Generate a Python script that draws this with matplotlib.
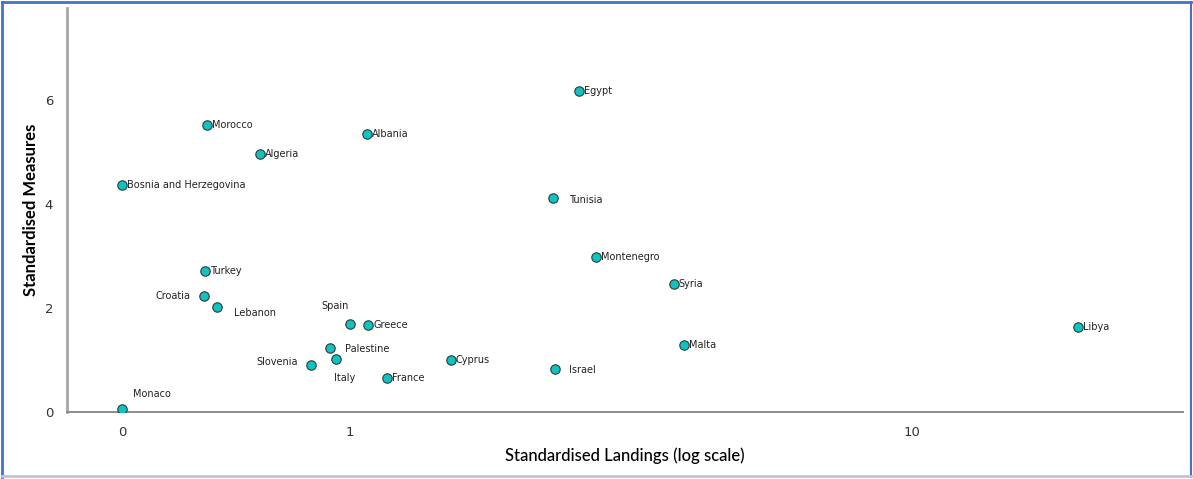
import matplotlib
matplotlib.use("Agg")
import matplotlib.pyplot as plt
from matplotlib.lines import Line2D

# Data (x = standardised landings, y = standardised measures)
countries = [
    "Monaco", "Turkey", "Croatia", "Lebanon", "Morocco", "Algeria",
    "Bosnia and Herzegovina", "Albania", "Spain", "Greece", "Palestine",
    "Italy", "Slovenia", "France", "Cyprus", "Israel", "Tunisia", "Egypt",
    "Montenegro", "Syria", "Malta", "Libya",
]
landings = [
    0.393, 0.552, 0.550, 0.580, 0.557, 0.692,
    0.393, 1.072, 1.000, 1.077, 0.921,
    0.944, 0.852, 1.164, 1.512, 2.316, 2.297, 2.556,
    2.740, 3.772, 3.929, 19.74,
]
measures = [
    0.06, 2.71, 2.23, 2.02, 5.52, 4.96,
    4.37, 5.35, 1.69, 1.67, 1.23,
    1.02, 0.90, 0.65, 1.00, 0.83, 4.12, 6.17,
    2.98, 2.46, 1.29, 1.63,
]

x_ticks = [0.393, 1, 10]
x_tick_labels = ["0", "1", "10"]
y_ticks = [0, 2, 4, 6]

# label offsets in pixels (dx, dy, ha)
LABEL_POS = {
    "Monaco": (11, 15, "left"),
    "Croatia": (-14, 0, "right"),
    "Lebanon": (17, -6, "left"),
    "Spain": (-15, 18, "center"),
    "Palestine": (15, -1, "left"),
    "Italy": (9, -19, "center"),
    "Slovenia": (-13, 3, "right"),
    "Tunisia": (16, -2, "left"),
    "Israel": (14, -1, "left"),
}

MARKER_COLOR = "#0FC4C0"
EDGE_COLOR = "#2B3A3A"
SPINE_COLOR = "#A6A6A6"
TEXT_COLOR = "#222222"

fig = plt.figure(figsize=(11.93, 4.79), dpi=100, facecolor="white")
ax = fig.add_axes([0.0562, 0.1399, 0.9354, 0.8431])

ax.scatter(landings, measures, s=46, color=MARKER_COLOR,
           edgecolors=EDGE_COLOR, linewidths=0.8, zorder=3)

for name, x, y in zip(countries, landings, measures):
    dx, dy, ha = LABEL_POS.get(name, (5, 0, "left"))
    ax.annotate(name, xy=(x, y), xytext=(dx, dy), textcoords="offset pixels",
                fontsize=7, color=TEXT_COLOR, ha=ha, va="center",
                family="DejaVu Sans")

ax.set_xscale("log")
ax.set_xlim(0.3136, 30.4)
ax.set_ylim(0, 7.77)
ax.set_xticks(x_ticks)
ax.set_xticklabels(x_tick_labels)
ax.minorticks_off()
ax.set_yticks(y_ticks)
ax.tick_params(length=0, labelsize=9.5, colors="#333333", pad=10)

ax.set_xlabel("Standardised Landings (log scale)", fontsize=12,
              family="Lato", fontweight="medium", labelpad=6)
ax.set_ylabel("Standardised Measures", fontsize=12, family="Lato",
              fontweight="bold", labelpad=4)

for side in ("top", "right"):
    ax.spines[side].set_visible(False)
ax.spines["left"].set_color(SPINE_COLOR)
ax.spines["left"].set_linewidth(2)
ax.spines["bottom"].set_color("#8C8C8C")
ax.spines["bottom"].set_linewidth(1.4)

# Outer frame like the reference screenshot
fig.add_artist(Line2D([0.002, 0.998], [0.996, 0.996], transform=fig.transFigure,
                      color="#4472C4", linewidth=2))
fig.add_artist(Line2D([0.002, 0.002], [0.004, 0.996], transform=fig.transFigure,
                      color="#4472C4", linewidth=2))
fig.add_artist(Line2D([0.998, 0.998], [0.004, 0.996], transform=fig.transFigure,
                      color="#4472C4", linewidth=1.5))
fig.add_artist(Line2D([0.002, 0.998], [0.006, 0.006], transform=fig.transFigure,
                      color="#B4C7E7", linewidth=2))

fig.savefig("out.png", dpi=100, facecolor="white")
plt.close(fig)
